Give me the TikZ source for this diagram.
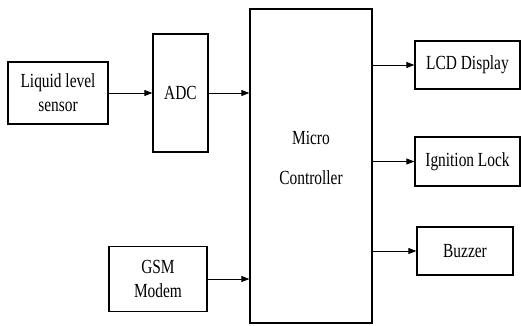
\documentclass[tikz,border=0pt]{standalone}
\usepackage{fontspec}
\setmainfont{Liberation Serif}[FakeStretch=0.77]
\usepackage{tikz}
\usetikzlibrary{positioning, arrows.meta, calc}
\tikzset{
    block/.style={
        draw=black,
        line width=1.3pt,
        align=center,
        inner sep=2pt,
        font=\fontsize{20}{24}\selectfont
    },
    link/.style={
        line width=0.8pt,
        -{Triangle[length=8pt,width=6pt]}
    }
}

\begin{document}
\begin{tikzpicture}[x=1pt,y=-1pt]

\useasboundingbox (0,0) rectangle (521,325);

%---------------- Inputs ----------------

\node[block, minimum width=100pt, minimum height=62pt] (sensor) at (58,93) {Liquid level\\sensor};
\node[block, minimum width=55pt, minimum height=118pt] (adc) at (180.5,93) {ADC};
\node[block, minimum width=98pt, minimum height=65pt] (gsm) at (158,279) {GSM\\Modem};

%---------------- Controller ----------------

\node[block, minimum width=122pt, minimum height=314pt] (mc) at (311,166) {Micro\\[16pt]Controller\\[-8pt]};

%---------------- Outputs ----------------

\node[block, minimum width=105pt, minimum height=48pt] (lcd) at (467.5,65) {LCD Display};
\node[block, minimum width=105pt, minimum height=49pt] (ign) at (467.5,161.5) {Ignition Lock};
\node[block, minimum width=96pt, minimum height=48pt] (buz) at (465,251) {Buzzer};

\draw[link] (sensor) -- (adc);
\draw[link] (adc.east) -- (adc.east -| mc.west);
\draw[link] (gsm.east) -- (gsm.east -| mc.west);

\draw[link] (mc.east |- lcd) -- (lcd);
\draw[link] (mc.east |- ign) -- (ign);
\draw[link] (mc.east |- buz) -- (buz);

\end{tikzpicture}
\end{document}
